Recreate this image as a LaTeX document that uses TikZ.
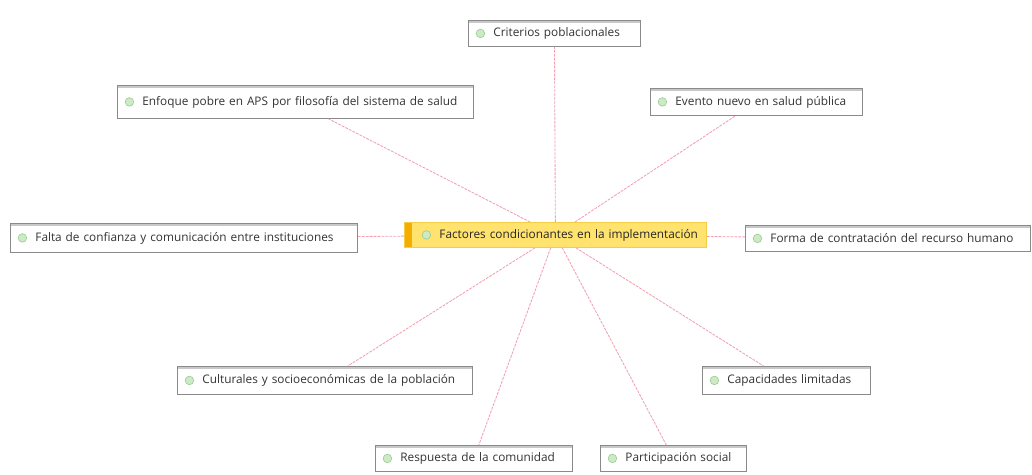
\documentclass[tikz,border=0pt]{standalone}
\usepackage{fontspec}
\setmainfont{Open Sans}
\definecolor{borde}{HTML}{8A8A8A}
\definecolor{barra}{HTML}{C8C8C8}
\definecolor{icono}{HTML}{CDE9C6}
\definecolor{iconoborde}{HTML}{93CC8C}
\definecolor{amarillo}{HTML}{FFE36E}
\definecolor{amarilloborde}{HTML}{F4CF45}
\definecolor{naranja}{HTML}{F5AE00}
\definecolor{rosa}{HTML}{F2A0B2}
\newlength{\pxl}
\setlength{\pxl}{0.025cm}
\tikzset{
  hoja/.style={draw=borde, fill=white, line width=0.6pt, anchor=north west,
    inner xsep=0pt, inner ysep=0pt, text width=#1\pxl, align=left,
    minimum height=26\pxl, font=\fontsize{8.4}{10}\selectfont, text=black!80,
    execute at begin node={\hspace*{25\pxl}},
    path picture={
      \fill[barra] (path picture bounding box.north west) rectangle
        ([yshift=-3\pxl]path picture bounding box.north east);
      \filldraw[fill=icono, draw=iconoborde, line width=0.4pt]
        ([xshift=12\pxl]path picture bounding box.west) circle (4.3\pxl);
    }},
  raiz/.style={draw=amarilloborde, fill=amarillo, line width=0.6pt, anchor=north west,
    inner xsep=0pt, inner ysep=0pt, text width=#1\pxl, align=left,
    minimum height=25\pxl, font=\fontsize{8.4}{10}\selectfont, text=black!85,
    execute at begin node={\hspace*{35\pxl}},
    path picture={
      \fill[naranja] (path picture bounding box.north west) rectangle
        ([xshift=8\pxl]path picture bounding box.south west);
      \filldraw[fill=icono, draw=iconoborde, line width=0.4pt]
        ([xshift=22\pxl]path picture bounding box.west) circle (4.3\pxl);
    }},
  enlace/.style={draw=rosa, line width=0.6pt, dash pattern=on 2pt off 0.8pt}
}

\begin{document}
\begin{tikzpicture}[x=\pxl, y=-\pxl]
  \useasboundingbox[fill=white] (0,0) rectangle (1032,474);

  % nodo central
  \node[raiz=302] (fac) at (404,222) {Factores condicionantes en la implementación};

  % ramas
  \node[hoja=172] (cri) at (468,20) {Criterios poblacionales};
  \node[hoja=356, minimum height=33\pxl] (enf) at (117,85) {Enfoque pobre en APS por filosofía del sistema de salud};
  \node[hoja=212, minimum height=27\pxl] (eve) at (650,88) {Evento nuevo en salud pública};
  \node[hoja=347, minimum height=29\pxl] (fal) at (10,223) {Falta de confianza y comunicación entre instituciones};
  \node[hoja=285] (for) at (745,225) {Forma de contratación del recurso humano};
  \node[hoja=295, minimum height=28\pxl] (cul) at (177,366) {Culturales y socioeconómicas de la población};
  \node[hoja=168, minimum height=28\pxl] (cap) at (702,366) {Capacidades limitadas};
  \node[hoja=197] (res) at (375,445) {Respuesta de la comunidad};
  \node[hoja=146] (par) at (600,445) {Participación social};

  % conectores
  \draw[enlace] (fac) -- (cri);
  \draw[enlace] (fac) -- (enf);
  \draw[enlace] (fac) -- (eve);
  \draw[enlace] (fac) -- (fal);
  \draw[enlace] (fac) -- (for);
  \draw[enlace] (fac) -- (cul);
  \draw[enlace] (fac) -- (cap);
  \draw[enlace] (fac) -- (res);
  \draw[enlace] (fac) -- (par);
\end{tikzpicture}
\end{document}
